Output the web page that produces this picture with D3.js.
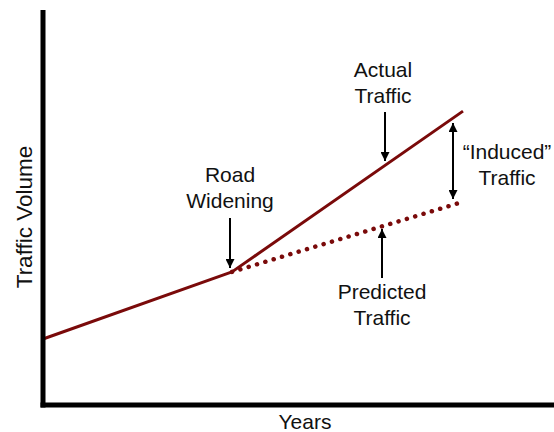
<!DOCTYPE html>
<html>
<head>
<meta charset="utf-8">
<script src="https://cdn.jsdelivr.net/npm/d3@7"></script>
<style>
  body { margin: 0; background: #fff; }
  svg text { font-family: "Liberation Sans", Arial, sans-serif; font-size: 21px; fill: #111; }
</style>
</head>
<body>
<div id="chart"></div>
<script>
const width = 554,
  height = 432;

// data (years since start, traffic volume in arbitrary units)
const actualYears = [0, 4.5, 10];
const actualVolume = [16.7, 33.7, 74.4];
const predictedYears = [4.5, 10.05];
const predictedVolume = [33.7, 51.6];
const axisLabels = ["Years", "Traffic Volume"];

const lineColor = "#7a0a0a";

const svg = d3.select("#chart")
  .append("svg")
  .attr("width", width)
  .attr("height", height);

const x = d3.scaleLinear().domain([0, 10]).range([43, 463]);
const y = d3.scaleLinear().domain([0, 100]).range([405, 10]);

// arrowhead
svg.append("defs").append("marker")
  .attr("id", "head")
  .attr("viewBox", "0 0 10 10")
  .attr("refX", 10)
  .attr("refY", 5)
  .attr("markerUnits", "userSpaceOnUse")
  .attr("markerWidth", 10)
  .attr("markerHeight", 9)
  .attr("orient", "auto-start-reverse")
  .append("path")
  .attr("d", "M0,0 L10,5 L0,10 Z")
  .attr("fill", "#000");

const line = d3.line()
  .x(d => x(d[0]))
  .y(d => y(d[1]));

// predicted (dotted)
svg.append("path")
  .datum(d3.zip(predictedYears, predictedVolume))
  .attr("d", line)
  .attr("fill", "none")
  .attr("stroke", lineColor)
  .attr("stroke-width", 4.5)
  .attr("stroke-linecap", "round")
  .attr("stroke-dasharray", "0.1 8.6");

// actual
svg.append("path")
  .datum(d3.zip(actualYears, actualVolume))
  .attr("d", line)
  .attr("fill", "none")
  .attr("stroke", lineColor)
  .attr("stroke-width", 3)
  .attr("stroke-linejoin", "round");

// axes (plain lines, no ticks)
svg.append("line")
  .attr("x1", x(0)).attr("x2", x(0))
  .attr("y1", y(100)).attr("y2", y(0) + 2.5)
  .attr("stroke", "#000").attr("stroke-width", 5);
svg.append("line")
  .attr("x1", x(0) - 2.5).attr("x2", width)
  .attr("y1", y(0)).attr("y2", y(0))
  .attr("stroke", "#000").attr("stroke-width", 5);

svg.append("text")
  .attr("x", 305).attr("y", 429)
  .attr("text-anchor", "middle")
  .text(axisLabels[0]);

svg.append("text")
  .attr("transform", "translate(32,217) rotate(-90)")
  .attr("text-anchor", "middle")
  .style("font-size", "22.5px")
  .text(axisLabels[1]);

// annotations
function arrow(x1, y1, x2, y2, both) {
  const a = svg.append("line")
    .attr("x1", x1).attr("y1", y1)
    .attr("x2", x2).attr("y2", y2)
    .attr("stroke", "#000")
    .attr("stroke-width", 2)
    .attr("marker-end", "url(#head)");
  if (both) a.attr("marker-start", "url(#head)");
}

function label(cx, y0, lines) {
  const t = svg.append("text").attr("text-anchor", "middle");
  lines.forEach((s, i) => {
    t.append("tspan").attr("x", cx).attr("y", y0 + i * 26).text(s);
  });
}

label(230, 182, ["Road", "Widening"]);
arrow(230, 218, 230, 268);

label(383, 77, ["Actual", "Traffic"]);
arrow(385, 112, 385, 161);

label(382, 299, ["Predicted", "Traffic"]);
arrow(382, 278, 382, 229);

label(507, 159, ["\u201CInduced\u201D", "Traffic"]);
arrow(453, 123, 453, 199, true);
</script>
</body>
</html>
